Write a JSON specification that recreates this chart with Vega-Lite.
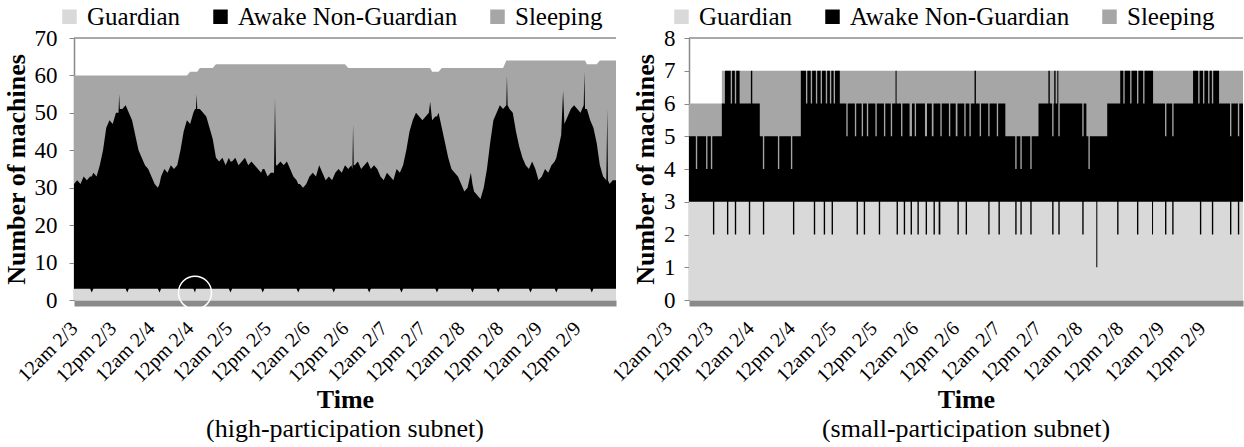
{
  "$schema": "https://vega.github.io/schema/vega-lite/v6.json",
  "background": "white",
  "padding": {"left": 3, "top": 4, "right": 0, "bottom": 0},
  "spacing": 73,
  "bounds": "flush",
  "config": {
    "font": "Times New Roman, Liberation Serif, Times, serif",
    "view": {"stroke": null},
    "style": {"guide-label": {"font": "Times New Roman, Liberation Serif, Times, serif"}},
    "axis": {"labelFont": "Times New Roman, Liberation Serif, Times, serif", "titleFont": "Times New Roman, Liberation Serif, Times, serif", "labelColor": "#000", "titleColor": "#000", "grid": false},
    "legend": {"labelFont": "serif", "labelFontSize": 25, "labelColor": "#000", "labelLimit": 0, "symbolType": "square", "symbolSize": 210, "symbolStrokeWidth": 0, "symbolOpacity": 1, "labelOffset": 5, "columnPadding": 27, "direction": "horizontal", "orient": "none"},
    "title": {"font": "Times New Roman, Liberation Serif, Times, serif", "fontSize": 26, "fontWeight": "normal", "color": "#000"}
  },
  "resolve": {"scale": {"color": "independent"}, "legend": {"color": "independent"}},
  "datasets": {
    "high": [
      {"hour":0,"guardian":3,"awake_top":31,"total":60},{"hour":1,"guardian":3,"awake_top":32,"total":60},{"hour":2,"guardian":3,"awake_top":31,"total":60},{"hour":3,"guardian":3,"awake_top":33,"total":60},{"hour":4,"guardian":3,"awake_top":32,"total":60},{"hour":5,"guardian":3,"awake_top":33,"total":60},{"hour":5.5,"guardian":2,"awake_top":33,"total":60},{"hour":6,"guardian":3,"awake_top":34,"total":60},{"hour":7,"guardian":3,"awake_top":33,"total":60},{"hour":8,"guardian":3,"awake_top":36,"total":60},{"hour":9,"guardian":3,"awake_top":40,"total":60},{"hour":10,"guardian":3,"awake_top":46,"total":60},{"hour":11,"guardian":3,"awake_top":48,"total":60},{"hour":12,"guardian":3,"awake_top":47,"total":60},{"hour":13,"guardian":3,"awake_top":50,"total":60},{"hour":13.8,"guardian":3,"awake_top":50,"total":60},{"hour":14,"guardian":3,"awake_top":55,"total":60},{"hour":14.2,"guardian":3,"awake_top":51,"total":60},{"hour":15,"guardian":3,"awake_top":51,"total":60},{"hour":16,"guardian":3,"awake_top":52,"total":60},{"hour":16.5,"guardian":2,"awake_top":51,"total":60},{"hour":17,"guardian":3,"awake_top":50,"total":60},{"hour":18,"guardian":3,"awake_top":48,"total":60},{"hour":19,"guardian":3,"awake_top":44,"total":60},{"hour":20,"guardian":3,"awake_top":40,"total":60},{"hour":21,"guardian":3,"awake_top":38,"total":60},{"hour":22,"guardian":3,"awake_top":36,"total":60},{"hour":23,"guardian":3,"awake_top":35,"total":60},{"hour":24,"guardian":3,"awake_top":33,"total":60},{"hour":25,"guardian":3,"awake_top":31,"total":60},{"hour":26,"guardian":3,"awake_top":30,"total":60},{"hour":26.5,"guardian":2,"awake_top":31,"total":60},{"hour":27,"guardian":3,"awake_top":33,"total":60},{"hour":28,"guardian":3,"awake_top":35,"total":60},{"hour":29,"guardian":3,"awake_top":34,"total":60},{"hour":30,"guardian":3,"awake_top":36,"total":60},{"hour":31,"guardian":3,"awake_top":35,"total":60},{"hour":32,"guardian":3,"awake_top":36,"total":60},{"hour":33,"guardian":3,"awake_top":40,"total":60},{"hour":34,"guardian":3,"awake_top":45,"total":60},{"hour":35,"guardian":3,"awake_top":48,"total":60},{"hour":36,"guardian":3,"awake_top":47,"total":61},{"hour":37,"guardian":3,"awake_top":50,"total":61},{"hour":37.5,"guardian":2,"awake_top":51,"total":61},{"hour":37.8,"guardian":3,"awake_top":51,"total":61},{"hour":38,"guardian":3,"awake_top":55,"total":61},{"hour":38.2,"guardian":3,"awake_top":51,"total":61},{"hour":39,"guardian":3,"awake_top":51,"total":62},{"hour":40,"guardian":3,"awake_top":50,"total":62},{"hour":41,"guardian":3,"awake_top":49,"total":62},{"hour":42,"guardian":3,"awake_top":46,"total":62},{"hour":43,"guardian":3,"awake_top":43,"total":62},{"hour":44,"guardian":3,"awake_top":38,"total":63},{"hour":45,"guardian":3,"awake_top":37,"total":63},{"hour":46,"guardian":3,"awake_top":38,"total":63},{"hour":47,"guardian":3,"awake_top":36,"total":63},{"hour":48,"guardian":3,"awake_top":38,"total":63},{"hour":48.5,"guardian":2,"awake_top":37,"total":63},{"hour":49,"guardian":3,"awake_top":37,"total":63},{"hour":50,"guardian":3,"awake_top":38,"total":63},{"hour":51,"guardian":3,"awake_top":36,"total":63},{"hour":52,"guardian":3,"awake_top":37,"total":63},{"hour":53,"guardian":3,"awake_top":38,"total":63},{"hour":54,"guardian":3,"awake_top":36,"total":63},{"hour":55,"guardian":3,"awake_top":37,"total":63},{"hour":56,"guardian":3,"awake_top":36,"total":63},{"hour":57,"guardian":3,"awake_top":35,"total":63},{"hour":58,"guardian":3,"awake_top":34,"total":63},{"hour":58.5,"guardian":2,"awake_top":35,"total":63},{"hour":59,"guardian":3,"awake_top":35,"total":63},{"hour":60,"guardian":3,"awake_top":33,"total":63},{"hour":61,"guardian":3,"awake_top":34,"total":63},{"hour":62,"guardian":3,"awake_top":34,"total":63},{"hour":62.3,"guardian":3,"awake_top":54,"total":63},{"hour":62.6,"guardian":3,"awake_top":36,"total":63},{"hour":63,"guardian":3,"awake_top":36,"total":63},{"hour":64,"guardian":3,"awake_top":37,"total":63},{"hour":65,"guardian":3,"awake_top":36,"total":63},{"hour":66,"guardian":3,"awake_top":37,"total":63},{"hour":67,"guardian":3,"awake_top":35,"total":63},{"hour":68,"guardian":3,"awake_top":33,"total":63},{"hour":69,"guardian":3,"awake_top":32,"total":63},{"hour":69.5,"guardian":2,"awake_top":31,"total":63},{"hour":70,"guardian":3,"awake_top":31,"total":63},{"hour":71,"guardian":3,"awake_top":30,"total":63},{"hour":72,"guardian":3,"awake_top":31,"total":63},{"hour":73,"guardian":3,"awake_top":33,"total":63},{"hour":74,"guardian":3,"awake_top":34,"total":63},{"hour":75,"guardian":3,"awake_top":33,"total":63},{"hour":76,"guardian":3,"awake_top":36,"total":63},{"hour":77,"guardian":3,"awake_top":34,"total":63},{"hour":78,"guardian":3,"awake_top":32,"total":63},{"hour":79,"guardian":3,"awake_top":33,"total":63},{"hour":80,"guardian":3,"awake_top":32,"total":63},{"hour":80.5,"guardian":2,"awake_top":33,"total":63},{"hour":81,"guardian":3,"awake_top":34,"total":63},{"hour":82,"guardian":3,"awake_top":35,"total":63},{"hour":83,"guardian":3,"awake_top":34,"total":63},{"hour":84,"guardian":3,"awake_top":36,"total":63},{"hour":85,"guardian":3,"awake_top":35,"total":62},{"hour":86,"guardian":3,"awake_top":36,"total":62},{"hour":86.3,"guardian":3,"awake_top":35,"total":62},{"hour":86.5,"guardian":3,"awake_top":47,"total":62},{"hour":86.7,"guardian":3,"awake_top":36,"total":62},{"hour":87,"guardian":3,"awake_top":36,"total":62},{"hour":88,"guardian":3,"awake_top":37,"total":62},{"hour":89,"guardian":3,"awake_top":35,"total":62},{"hour":90,"guardian":3,"awake_top":36,"total":62},{"hour":91,"guardian":3,"awake_top":37,"total":62},{"hour":91.5,"guardian":2,"awake_top":36,"total":62},{"hour":92,"guardian":3,"awake_top":35,"total":62},{"hour":93,"guardian":3,"awake_top":36,"total":62},{"hour":94,"guardian":3,"awake_top":35,"total":62},{"hour":95,"guardian":3,"awake_top":33,"total":62},{"hour":96,"guardian":3,"awake_top":32,"total":62},{"hour":97,"guardian":3,"awake_top":34,"total":62},{"hour":98,"guardian":3,"awake_top":33,"total":62},{"hour":99,"guardian":3,"awake_top":32,"total":62},{"hour":100,"guardian":3,"awake_top":35,"total":62},{"hour":101,"guardian":3,"awake_top":34,"total":62},{"hour":101.5,"guardian":2,"awake_top":35,"total":62},{"hour":102,"guardian":3,"awake_top":36,"total":62},{"hour":103,"guardian":3,"awake_top":40,"total":62},{"hour":104,"guardian":3,"awake_top":45,"total":62},{"hour":105,"guardian":3,"awake_top":48,"total":62},{"hour":106,"guardian":3,"awake_top":50,"total":62},{"hour":107,"guardian":3,"awake_top":49,"total":62},{"hour":108,"guardian":3,"awake_top":48,"total":62},{"hour":109,"guardian":3,"awake_top":49,"total":62},{"hour":110,"guardian":3,"awake_top":50,"total":62},{"hour":110.4,"guardian":3,"awake_top":53,"total":62},{"hour":111,"guardian":3,"awake_top":48,"total":61},{"hour":112,"guardian":3,"awake_top":49,"total":61},{"hour":112.5,"guardian":2,"awake_top":49,"total":61},{"hour":113,"guardian":3,"awake_top":50,"total":61},{"hour":114,"guardian":3,"awake_top":46,"total":62},{"hour":115,"guardian":3,"awake_top":42,"total":62},{"hour":116,"guardian":3,"awake_top":38,"total":62},{"hour":117,"guardian":3,"awake_top":35,"total":62},{"hour":118,"guardian":3,"awake_top":34,"total":62},{"hour":119,"guardian":3,"awake_top":33,"total":62},{"hour":120,"guardian":3,"awake_top":31,"total":62},{"hour":121,"guardian":3,"awake_top":29,"total":62},{"hour":122,"guardian":3,"awake_top":30,"total":62},{"hour":123,"guardian":3,"awake_top":34,"total":62},{"hour":123.5,"guardian":2,"awake_top":31,"total":62},{"hour":124,"guardian":3,"awake_top":29,"total":62},{"hour":125,"guardian":3,"awake_top":28,"total":62},{"hour":126,"guardian":3,"awake_top":27,"total":62},{"hour":127,"guardian":3,"awake_top":30,"total":62},{"hour":128,"guardian":3,"awake_top":35,"total":62},{"hour":129,"guardian":3,"awake_top":42,"total":62},{"hour":130,"guardian":3,"awake_top":48,"total":62},{"hour":131,"guardian":3,"awake_top":50,"total":62},{"hour":131.5,"guardian":2,"awake_top":51,"total":62},{"hour":132,"guardian":3,"awake_top":52,"total":62},{"hour":133,"guardian":3,"awake_top":51,"total":62},{"hour":134,"guardian":3,"awake_top":52,"total":64},{"hour":134.2,"guardian":3,"awake_top":60,"total":64},{"hour":134.4,"guardian":3,"awake_top":52,"total":64},{"hour":135,"guardian":3,"awake_top":51,"total":64},{"hour":136,"guardian":3,"awake_top":50,"total":64},{"hour":137,"guardian":3,"awake_top":45,"total":64},{"hour":138,"guardian":3,"awake_top":41,"total":64},{"hour":139,"guardian":3,"awake_top":38,"total":64},{"hour":140,"guardian":3,"awake_top":36,"total":64},{"hour":141,"guardian":3,"awake_top":35,"total":64},{"hour":141.5,"guardian":2,"awake_top":36,"total":64},{"hour":142,"guardian":3,"awake_top":37,"total":64},{"hour":143,"guardian":3,"awake_top":35,"total":64},{"hour":144,"guardian":3,"awake_top":32,"total":64},{"hour":145,"guardian":3,"awake_top":33,"total":64},{"hour":146,"guardian":3,"awake_top":35,"total":64},{"hour":147,"guardian":3,"awake_top":34,"total":64},{"hour":148,"guardian":3,"awake_top":36,"total":64},{"hour":149,"guardian":3,"awake_top":37,"total":64},{"hour":149.5,"guardian":2,"awake_top":38,"total":64},{"hour":150,"guardian":3,"awake_top":40,"total":64},{"hour":151,"guardian":3,"awake_top":44,"total":64},{"hour":151.6,"guardian":3,"awake_top":56,"total":64},{"hour":152,"guardian":3,"awake_top":47,"total":64},{"hour":153,"guardian":3,"awake_top":49,"total":64},{"hour":154,"guardian":3,"awake_top":51,"total":64},{"hour":155,"guardian":3,"awake_top":52,"total":64},{"hour":156,"guardian":3,"awake_top":51,"total":64},{"hour":157,"guardian":3,"awake_top":50,"total":64},{"hour":158,"guardian":3,"awake_top":52,"total":64},{"hour":158.2,"guardian":3,"awake_top":61,"total":64},{"hour":158.4,"guardian":3,"awake_top":51,"total":64},{"hour":159,"guardian":3,"awake_top":51,"total":63},{"hour":160,"guardian":3,"awake_top":48,"total":63},{"hour":160.5,"guardian":2,"awake_top":47,"total":63},{"hour":161,"guardian":3,"awake_top":46,"total":63},{"hour":162,"guardian":3,"awake_top":42,"total":63},{"hour":163,"guardian":3,"awake_top":36,"total":64},{"hour":164,"guardian":3,"awake_top":33,"total":64},{"hour":165,"guardian":3,"awake_top":32,"total":64},{"hour":165.3,"guardian":3,"awake_top":51,"total":64},{"hour":165.5,"guardian":3,"awake_top":32,"total":64},{"hour":166,"guardian":3,"awake_top":31,"total":64},{"hour":167,"guardian":3,"awake_top":32,"total":64},{"hour":168,"guardian":3,"awake_top":32,"total":64}
    ],
    "small": [
      {"hour":6,"guardian":3,"awake_top":5,"total":6},{"hour":8,"guardian":3,"awake_top":4,"total":6},{"hour":8.4,"guardian":3,"awake_top":5,"total":6},{"hour":11,"guardian":3,"awake_top":4,"total":6},{"hour":11.4,"guardian":3,"awake_top":5,"total":6},{"hour":12.4,"guardian":3,"awake_top":4,"total":6},{"hour":12.8,"guardian":3,"awake_top":5,"total":6},{"hour":13,"guardian":2,"awake_top":5,"total":6},{"hour":13.4,"guardian":3,"awake_top":5,"total":6},{"hour":15.6,"guardian":3,"awake_top":6,"total":7},{"hour":16.5,"guardian":3,"awake_top":7,"total":7},{"hour":17.1,"guardian":2,"awake_top":7,"total":7},{"hour":17.5,"guardian":3,"awake_top":7,"total":7},{"hour":18.2,"guardian":3,"awake_top":6,"total":7},{"hour":18.6,"guardian":3,"awake_top":7,"total":7},{"hour":19.4,"guardian":2,"awake_top":6,"total":7},{"hour":19.8,"guardian":3,"awake_top":7,"total":7},{"hour":20.8,"guardian":3,"awake_top":6,"total":7},{"hour":21.2,"guardian":3,"awake_top":6,"total":7},{"hour":23.5,"guardian":2,"awake_top":6,"total":7},{"hour":23.9,"guardian":3,"awake_top":6,"total":7},{"hour":24.1,"guardian":3,"awake_top":7,"total":7},{"hour":24.5,"guardian":3,"awake_top":6,"total":7},{"hour":26.7,"guardian":3,"awake_top":5,"total":7},{"hour":27.6,"guardian":2,"awake_top":4,"total":7},{"hour":28,"guardian":3,"awake_top":5,"total":7},{"hour":32,"guardian":3,"awake_top":4,"total":7},{"hour":32.4,"guardian":3,"awake_top":5,"total":7},{"hour":35.8,"guardian":3,"awake_top":4,"total":7},{"hour":36.2,"guardian":3,"awake_top":5,"total":7},{"hour":36.4,"guardian":2,"awake_top":5,"total":7},{"hour":36.8,"guardian":3,"awake_top":5,"total":7},{"hour":38.7,"guardian":3,"awake_top":7,"total":7},{"hour":40.2,"guardian":3,"awake_top":6,"total":7},{"hour":40.6,"guardian":3,"awake_top":7,"total":7},{"hour":41.6,"guardian":3,"awake_top":6,"total":7},{"hour":42,"guardian":3,"awake_top":7,"total":7},{"hour":42.5,"guardian":2,"awake_top":7,"total":7},{"hour":42.9,"guardian":3,"awake_top":7,"total":7},{"hour":43.1,"guardian":3,"awake_top":6,"total":7},{"hour":43.5,"guardian":3,"awake_top":7,"total":7},{"hour":44.5,"guardian":3,"awake_top":6,"total":7},{"hour":44.9,"guardian":3,"awake_top":7,"total":7},{"hour":45.4,"guardian":2,"awake_top":7,"total":7},{"hour":45.8,"guardian":3,"awake_top":7,"total":7},{"hour":46,"guardian":3,"awake_top":6,"total":7},{"hour":46.4,"guardian":3,"awake_top":7,"total":7},{"hour":47.2,"guardian":3,"awake_top":6,"total":7},{"hour":47.6,"guardian":3,"awake_top":7,"total":7},{"hour":47.7,"guardian":2,"awake_top":7,"total":7},{"hour":48.1,"guardian":3,"awake_top":7,"total":7},{"hour":48.3,"guardian":3,"awake_top":6,"total":7},{"hour":48.7,"guardian":3,"awake_top":7,"total":7},{"hour":50.1,"guardian":3,"awake_top":6,"total":7},{"hour":52,"guardian":3,"awake_top":5,"total":7},{"hour":52.4,"guardian":3,"awake_top":6,"total":7},{"hour":54.5,"guardian":3,"awake_top":5,"total":7},{"hour":54.9,"guardian":3,"awake_top":6,"total":7},{"hour":55,"guardian":2,"awake_top":6,"total":7},{"hour":55.4,"guardian":3,"awake_top":6,"total":7},{"hour":56.5,"guardian":3,"awake_top":5,"total":7},{"hour":56.9,"guardian":3,"awake_top":6,"total":7},{"hour":57.1,"guardian":2,"awake_top":6,"total":7},{"hour":57.5,"guardian":3,"awake_top":6,"total":7},{"hour":58,"guardian":3,"awake_top":5,"total":7},{"hour":58.4,"guardian":3,"awake_top":6,"total":7},{"hour":60.5,"guardian":3,"awake_top":5,"total":7},{"hour":60.9,"guardian":3,"awake_top":6,"total":7},{"hour":61.5,"guardian":2,"awake_top":6,"total":7},{"hour":61.9,"guardian":3,"awake_top":6,"total":7},{"hour":63,"guardian":3,"awake_top":5,"total":7},{"hour":63.4,"guardian":3,"awake_top":6,"total":7},{"hour":65,"guardian":3,"awake_top":5,"total":7},{"hour":65.4,"guardian":3,"awake_top":6,"total":7},{"hour":66.4,"guardian":3,"awake_top":7,"total":7},{"hour":66.7,"guardian":2,"awake_top":6,"total":7},{"hour":67.1,"guardian":3,"awake_top":6,"total":7},{"hour":68,"guardian":3,"awake_top":5,"total":7},{"hour":68.4,"guardian":3,"awake_top":6,"total":7},{"hour":68.8,"guardian":2,"awake_top":6,"total":7},{"hour":69.2,"guardian":3,"awake_top":6,"total":7},{"hour":70.5,"guardian":3,"awake_top":5,"total":7},{"hour":70.8,"guardian":2,"awake_top":5,"total":7},{"hour":71.2,"guardian":3,"awake_top":6,"total":7},{"hour":72,"guardian":3,"awake_top":5,"total":7},{"hour":72.4,"guardian":3,"awake_top":6,"total":7},{"hour":72.8,"guardian":2,"awake_top":6,"total":7},{"hour":73.2,"guardian":3,"awake_top":6,"total":7},{"hour":75,"guardian":3,"awake_top":5,"total":7},{"hour":75.2,"guardian":2,"awake_top":5,"total":7},{"hour":75.6,"guardian":3,"awake_top":6,"total":7},{"hour":77,"guardian":3,"awake_top":5,"total":7},{"hour":77.5,"guardian":2,"awake_top":6,"total":7},{"hour":77.9,"guardian":3,"awake_top":6,"total":7},{"hour":79,"guardian":2,"awake_top":6,"total":7},{"hour":79.5,"guardian":3,"awake_top":5,"total":7},{"hour":79.9,"guardian":3,"awake_top":6,"total":7},{"hour":82,"guardian":3,"awake_top":5,"total":7},{"hour":82.4,"guardian":3,"awake_top":6,"total":7},{"hour":84,"guardian":3,"awake_top":5,"total":7},{"hour":84.5,"guardian":2,"awake_top":6,"total":7},{"hour":84.9,"guardian":3,"awake_top":6,"total":7},{"hour":86.5,"guardian":3,"awake_top":5,"total":7},{"hour":86.9,"guardian":2,"awake_top":6,"total":7},{"hour":87.3,"guardian":3,"awake_top":6,"total":7},{"hour":88,"guardian":3,"awake_top":5,"total":7},{"hour":88.4,"guardian":3,"awake_top":6,"total":7},{"hour":89.5,"guardian":3,"awake_top":7,"total":7},{"hour":89.9,"guardian":3,"awake_top":6,"total":7},{"hour":91,"guardian":3,"awake_top":5,"total":7},{"hour":91.4,"guardian":3,"awake_top":6,"total":7},{"hour":93.5,"guardian":2,"awake_top":5,"total":7},{"hour":93.9,"guardian":3,"awake_top":6,"total":7},{"hour":96,"guardian":3,"awake_top":5,"total":7},{"hour":96.4,"guardian":3,"awake_top":6,"total":7},{"hour":96.5,"guardian":2,"awake_top":6,"total":7},{"hour":96.9,"guardian":3,"awake_top":6,"total":7},{"hour":98.5,"guardian":3,"awake_top":5,"total":7},{"hour":101.4,"guardian":2,"awake_top":4,"total":7},{"hour":101.8,"guardian":3,"awake_top":5,"total":7},{"hour":102.9,"guardian":2,"awake_top":4,"total":7},{"hour":103.3,"guardian":3,"awake_top":5,"total":7},{"hour":105.8,"guardian":2,"awake_top":4,"total":7},{"hour":106.2,"guardian":3,"awake_top":5,"total":7},{"hour":108.2,"guardian":3,"awake_top":6,"total":7},{"hour":111.1,"guardian":3,"awake_top":7,"total":7},{"hour":111.5,"guardian":3,"awake_top":6,"total":7},{"hour":112.2,"guardian":2,"awake_top":5,"total":7},{"hour":112.6,"guardian":3,"awake_top":6,"total":7},{"hour":112.8,"guardian":3,"awake_top":7,"total":7},{"hour":113.2,"guardian":3,"awake_top":6,"total":7},{"hour":113.7,"guardian":3,"awake_top":7,"total":7},{"hour":114,"guardian":2,"awake_top":5,"total":7},{"hour":114.4,"guardian":3,"awake_top":6,"total":7},{"hour":121,"guardian":2,"awake_top":5,"total":7},{"hour":121.4,"guardian":3,"awake_top":6,"total":7},{"hour":122.2,"guardian":3,"awake_top":5,"total":7},{"hour":122.8,"guardian":3,"awake_top":4,"total":7},{"hour":123.2,"guardian":3,"awake_top":5,"total":7},{"hour":125.1,"guardian":1,"awake_top":5,"total":7},{"hour":125.4,"guardian":3,"awake_top":5,"total":7},{"hour":128.3,"guardian":3,"awake_top":6,"total":7},{"hour":131.2,"guardian":2,"awake_top":6,"total":7},{"hour":131.6,"guardian":3,"awake_top":6,"total":7},{"hour":132.1,"guardian":3,"awake_top":7,"total":7},{"hour":133,"guardian":3,"awake_top":6,"total":7},{"hour":133.4,"guardian":3,"awake_top":7,"total":7},{"hour":135,"guardian":3,"awake_top":6,"total":7},{"hour":135.4,"guardian":3,"awake_top":7,"total":7},{"hour":137,"guardian":2,"awake_top":6,"total":7},{"hour":137.4,"guardian":3,"awake_top":7,"total":7},{"hour":138.8,"guardian":3,"awake_top":6,"total":7},{"hour":139.2,"guardian":3,"awake_top":7,"total":7},{"hour":141.4,"guardian":2,"awake_top":7,"total":7},{"hour":141.7,"guardian":3,"awake_top":6,"total":7},{"hour":145.2,"guardian":2,"awake_top":5,"total":7},{"hour":145.6,"guardian":3,"awake_top":6,"total":7},{"hour":147.3,"guardian":2,"awake_top":5,"total":7},{"hour":147.7,"guardian":3,"awake_top":6,"total":7},{"hour":153.4,"guardian":3,"awake_top":7,"total":7},{"hour":154.9,"guardian":3,"awake_top":6,"total":7},{"hour":155.3,"guardian":3,"awake_top":7,"total":7},{"hour":155.4,"guardian":2,"awake_top":7,"total":7},{"hour":155.8,"guardian":3,"awake_top":7,"total":7},{"hour":156.3,"guardian":3,"awake_top":6,"total":7},{"hour":156.7,"guardian":3,"awake_top":7,"total":7},{"hour":157.8,"guardian":3,"awake_top":6,"total":7},{"hour":158.2,"guardian":3,"awake_top":7,"total":7},{"hour":158.9,"guardian":2,"awake_top":6,"total":7},{"hour":159.3,"guardian":3,"awake_top":7,"total":7},{"hour":161,"guardian":3,"awake_top":6,"total":7},{"hour":164.2,"guardian":2,"awake_top":5,"total":7},{"hour":164.6,"guardian":3,"awake_top":6,"total":7},{"hour":166.5,"guardian":2,"awake_top":5,"total":7},{"hour":166.9,"guardian":3,"awake_top":6,"total":7},{"hour":168,"guardian":3,"awake_top":6,"total":7}
    ]
  },
  "hconcat": [
    {
      "width": 542,
      "height": 262,
      "title": {"text": "(high-participation subnet)", "orient": "bottom", "frame": "group", "anchor": "middle", "offset": 3},
      "layer": [
        {
          "data": {"values": [{"level": 70}]},
          "mark": {"type": "rule", "color": "#8c8c8c", "strokeWidth": 1.5},
          "encoding": {"y": {"field": "level", "type": "quantitative", "scale": {"domain": [0, 70], "nice": false}, "title": "Number of machines"}}
        },
        {
          "data": {"name": "high"},
          "mark": {"type": "area", "opacity": 1, "interpolate": "linear"},
          "encoding": {
            "x": {"field": "hour", "type": "quantitative", "title": "Time", "scale": {"domain": [0, 168], "nice": false, "zero": false},
              "axis": {"values": [0,12,24,36,48,60,72,84,96,108,120,132,144,156], "tickCount": 30, "labelExpr": "(datum.value % 24 == 0 ? '12am' : '12pm') + ' 2/' + (3 + floor(datum.value / 24))", "labelAngle": -45, "labelAlign": "right", "labelBaseline": "middle", "labelFontSize": 20, "labelPadding": 22, "labelOverlap": false, "labelBound": false, "labelFlush": false, "ticks": false, "domainColor": "#8a8a8a", "domainWidth": 6, "offset": 3, "titleFontSize": 26, "titleFontWeight": "bold", "titlePadding": 1}},
            "y": {"field": "total", "type": "quantitative", "title": "Number of machines", "scale": {"domain": [0, 70], "nice": false},
              "axis": {"values": [0,10,20,30,40,50,60,70], "tickCount": 30, "format": "d", "labelOverlap": false, "domainColor": "#888888", "domainWidth": 1.5, "tickColor": "#888888", "tickSize": 5, "labelFontSize": 23, "labelPadding": 12, "titleFontSize": 26, "titleFontWeight": "bold", "titlePadding": 5}},
            "color": {"datum": "Sleeping", "scale": {"domain": ["Guardian", "Awake Non-Guardian", "Sleeping"], "range": ["#d9d9d9", "#000000", "#a6a6a6"]},
              "legend": {"title": null, "orient": "none", "direction": "horizontal", "legendX": -17, "legendY": -34, "labelFont": "serif", "labelFontSize": 25, "labelLimit": 0}}
          }
        },
        {
          "data": {"name": "high"},
          "mark": {"type": "area", "opacity": 1, "interpolate": "linear"},
          "encoding": {
            "x": {"field": "hour", "type": "quantitative", "title": "Time"},
            "y": {"field": "awake_top", "type": "quantitative", "title": "Number of machines"},
            "color": {"datum": "Awake Non-Guardian"}
          }
        },
        {
          "data": {"name": "high"},
          "mark": {"type": "area", "opacity": 1, "interpolate": "linear"},
          "encoding": {
            "x": {"field": "hour", "type": "quantitative", "title": "Time"},
            "y": {"field": "guardian", "type": "quantitative", "title": "Number of machines"},
            "color": {"datum": "Guardian"}
          }
        },
        {
          "data": {"values": [{"hour": 37.5, "level": 1.95}]},
          "mark": {"type": "point", "shape": "circle", "size": 1089, "filled": false, "stroke": "white", "strokeWidth": 1.5, "opacity": 1},
          "encoding": {
            "x": {"field": "hour", "type": "quantitative", "title": "Time"},
            "y": {"field": "level", "type": "quantitative", "title": "Number of machines"}
          }
        }
      ]
    },
    {
      "width": 554,
      "height": 262,
      "title": {"text": "(small-participation subnet)", "orient": "bottom", "frame": "group", "anchor": "middle", "offset": 3},
      "layer": [
        {
          "data": {"values": [{"level": 8}]},
          "mark": {"type": "rule", "color": "#8c8c8c", "strokeWidth": 1.5},
          "encoding": {"y": {"field": "level", "type": "quantitative", "scale": {"domain": [0, 8], "nice": false}, "title": "Number of machines"}}
        },
        {
          "data": {"name": "small"},
          "mark": {"type": "area", "opacity": 1, "interpolate": "step-after"},
          "encoding": {
            "x": {"field": "hour", "type": "quantitative", "title": "Time", "scale": {"domain": [6, 168], "nice": false, "zero": false},
              "axis": {"values": [6,18,30,42,54,66,78,90,102,114,126,138,150,162], "tickCount": 30, "labelExpr": "((datum.value - 6) % 24 == 0 ? '12am' : '12pm') + ' 2/' + (3 + floor((datum.value - 6) / 24))", "labelOffset": -20.5, "labelAngle": -45, "labelAlign": "right", "labelBaseline": "middle", "labelFontSize": 20, "labelPadding": 22, "labelOverlap": false, "labelBound": false, "labelFlush": false, "ticks": false, "domainColor": "#8a8a8a", "domainWidth": 6, "offset": 3, "titleFontSize": 26, "titleFontWeight": "bold", "titlePadding": 1}},
            "y": {"field": "total", "type": "quantitative", "title": "Number of machines", "scale": {"domain": [0, 8], "nice": false},
              "axis": {"values": [0,1,2,3,4,5,6,7,8], "tickCount": 30, "format": "d", "labelOverlap": false, "domainColor": "#888888", "domainWidth": 1.5, "tickColor": "#888888", "tickSize": 5, "labelFontSize": 23, "labelPadding": 9, "titleFontSize": 26, "titleFontWeight": "bold", "titlePadding": 5}},
            "color": {"datum": "Sleeping", "scale": {"domain": ["Guardian", "Awake Non-Guardian", "Sleeping"], "range": ["#d9d9d9", "#000000", "#a6a6a6"]},
              "legend": {"title": null, "orient": "none", "direction": "horizontal", "legendX": -20, "legendY": -34, "labelFont": "serif", "labelFontSize": 25, "labelLimit": 0}}
          }
        },
        {
          "data": {"name": "small"},
          "mark": {"type": "area", "opacity": 1, "interpolate": "step-after"},
          "encoding": {
            "x": {"field": "hour", "type": "quantitative", "title": "Time"},
            "y": {"field": "awake_top", "type": "quantitative", "title": "Number of machines"},
            "color": {"datum": "Awake Non-Guardian"}
          }
        },
        {
          "data": {"name": "small"},
          "mark": {"type": "area", "opacity": 1, "interpolate": "step-after"},
          "encoding": {
            "x": {"field": "hour", "type": "quantitative", "title": "Time"},
            "y": {"field": "guardian", "type": "quantitative", "title": "Number of machines"},
            "color": {"datum": "Guardian"}
          }
        }
      ]
    }
  ]
}
